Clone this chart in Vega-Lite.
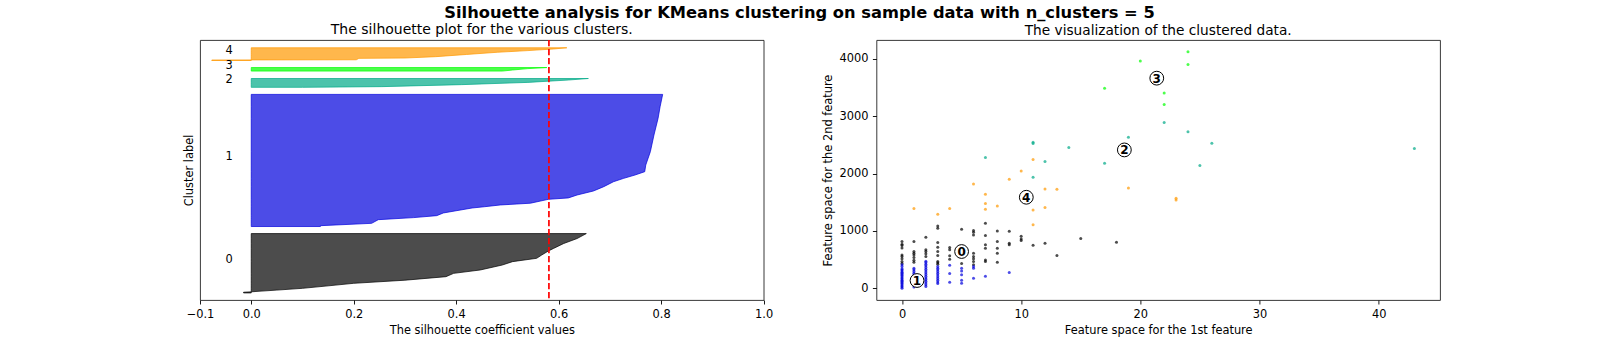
{
  "$schema": "https://vega.github.io/schema/vega-lite/v6.json",
  "autosize": {"type": "none"},
  "padding": {"left": 200, "top": 40, "right": 1400, "bottom": 297},
  "background": "white",
  "bounds": "flush",
  "spacing": 112.4,
  "title": {"text": "Silhouette analysis for KMeans clustering on sample data with n_clusters = 5", "fontSize": 16.3, "fontWeight": "bold", "font": "DejaVu Sans", "color": "#000", "anchor": "middle", "dx": -12, "offset": -12, "baseline": "alphabetic"},
  "config": {
    "font": "DejaVu Sans",
    "view": {"stroke": "#222", "strokeWidth": 0.9},
    "axis": {"grid": false, "domain": false, "tickColor": "#000", "tickSize": 4, "tickWidth": 0.9, "labelFontSize": 11.4, "labelColor": "#000", "labelFont": "DejaVu Sans", "titleFont": "DejaVu Sans", "titleFontSize": 11.4, "titleFontWeight": "normal", "titleColor": "#000", "labelPadding": 4.5, "titlePadding": 5, "labelFlush": false, "labelOverlap": false},
    "title": {"fontSize": 13.7, "fontWeight": "normal", "color": "#000", "font": "DejaVu Sans"}
  },
  "datasets": {
    "sil": [
      {"c":"0","pos":10,"val":-0.015},{"c":"0","pos":11,"val":-0.015},{"c":"0","pos":11.6,"val":0.0},{"c":"0","pos":14,"val":0.05},{"c":"0","pos":16.5,"val":0.10},{"c":"0","pos":20,"val":0.15},{"c":"0","pos":23.6,"val":0.20},{"c":"0","pos":28,"val":0.30},{"c":"0","pos":33,"val":0.38},{"c":"0","pos":37.7,"val":0.395},{"c":"0","pos":42.5,"val":0.447},{"c":"0","pos":49.5,"val":0.49},{"c":"0","pos":54.3,"val":0.51},{"c":"0","pos":59,"val":0.557},{"c":"0","pos":63.7,"val":0.567},{"c":"0","pos":69.4,"val":0.58},{"c":"0","pos":73,"val":0.59},{"c":"0","pos":80,"val":0.61},{"c":"0","pos":87,"val":0.636},{"c":"0","pos":94,"val":0.654},
      {"c":"1","pos":104,"val":0.135},{"c":"1","pos":105.2,"val":0.135},{"c":"1","pos":108.5,"val":0.235},{"c":"1","pos":113.7,"val":0.248},{"c":"1","pos":116.6,"val":0.317},{"c":"1","pos":119.4,"val":0.362},{"c":"1","pos":123.2,"val":0.375},{"c":"1","pos":130.2,"val":0.431},{"c":"1","pos":132,"val":0.455},{"c":"1","pos":134.5,"val":0.486},{"c":"1","pos":137,"val":0.545},{"c":"1","pos":142.5,"val":0.58},{"c":"1","pos":144.5,"val":0.619},{"c":"1","pos":148.6,"val":0.636},{"c":"1","pos":154.3,"val":0.668},{"c":"1","pos":160.4,"val":0.688},{"c":"1","pos":167.4,"val":0.707},{"c":"1","pos":172.2,"val":0.727},{"c":"1","pos":176.9,"val":0.749},{"c":"1","pos":181.6,"val":0.768},{"c":"1","pos":191,"val":0.770},{"c":"1","pos":210,"val":0.779},{"c":"1","pos":233.5,"val":0.786},{"c":"1","pos":257,"val":0.794},{"c":"1","pos":273.6,"val":0.798},{"c":"1","pos":291,"val":0.803},
      {"c":"2","pos":301,"val":0.10},{"c":"2","pos":302,"val":0.255},{"c":"2","pos":304.8,"val":0.41},{"c":"2","pos":308,"val":0.54},{"c":"2","pos":311.4,"val":0.62},{"c":"2","pos":313.5,"val":0.658},
      {"c":"3","pos":324,"val":0.49},{"c":"3","pos":325.5,"val":0.51},{"c":"3","pos":327.5,"val":0.54},{"c":"3","pos":329,"val":0.577},
      {"c":"4","pos":339,"val":-0.077},{"c":"4","pos":339.7,"val":-0.077},{"c":"4","pos":340,"val":0.205},{"c":"4","pos":342,"val":0.21},{"c":"4","pos":342.5,"val":0.30},{"c":"4","pos":344.4,"val":0.36},{"c":"4","pos":347.5,"val":0.42},{"c":"4","pos":350.6,"val":0.48},{"c":"4","pos":353,"val":0.54},{"c":"4","pos":355.3,"val":0.59},{"c":"4","pos":357,"val":0.616}
    ],
    "labels": [
      {"c":"0","pos":52},{"c":"1","pos":197.5},{"c":"2","pos":307},{"c":"3","pos":326.5},{"c":"4","pos":348}
    ],
    "pts": [
      {"c":"0","x":0,"y":814},{"c":"0","x":0,"y":767},{"c":"0","x":0,"y":744},{"c":"0","x":0,"y":700},{"c":"0","x":0,"y":581},{"c":"0","x":0,"y":552},{"c":"0","x":0,"y":512},{"c":"0","x":0,"y":465},{"c":"0","x":0,"y":430},
      {"c":"0","x":1,"y":814},{"c":"0","x":1,"y":640},{"c":"0","x":1,"y":610},{"c":"0","x":1,"y":581},{"c":"0","x":1,"y":535},{"c":"0","x":1,"y":488},{"c":"0","x":1,"y":453},
      {"c":"0","x":2,"y":890},{"c":"0","x":2,"y":669},{"c":"0","x":2,"y":640},{"c":"0","x":2,"y":600},{"c":"0","x":2,"y":552},
      {"c":"0","x":3,"y":1087},{"c":"0","x":3,"y":1047},{"c":"0","x":3,"y":797},{"c":"0","x":3,"y":715},{"c":"0","x":3,"y":640},{"c":"0","x":3,"y":570},{"c":"0","x":3,"y":465},{"c":"0","x":3,"y":442},{"c":"0","x":3,"y":419},
      {"c":"0","x":4,"y":709},{"c":"0","x":4,"y":669},{"c":"0","x":4,"y":564},{"c":"0","x":4,"y":506},
      {"c":"0","x":5,"y":1029},{"c":"0","x":5,"y":700},{"c":"0","x":5,"y":560},{"c":"0","x":5,"y":430},
      {"c":"0","x":6,"y":1006},{"c":"0","x":6,"y":977},{"c":"0","x":6,"y":930},{"c":"0","x":6,"y":610},{"c":"0","x":6,"y":552},{"c":"0","x":6,"y":512},{"c":"0","x":6,"y":465},{"c":"0","x":6,"y":407},
      {"c":"0","x":7,"y":1134},{"c":"0","x":7,"y":919},{"c":"0","x":7,"y":756},{"c":"0","x":7,"y":698},{"c":"0","x":7,"y":494},{"c":"0","x":7,"y":465},
      {"c":"0","x":8,"y":1000},{"c":"0","x":8,"y":814},{"c":"0","x":8,"y":698},{"c":"0","x":8,"y":610},{"c":"0","x":8,"y":453},
      {"c":"0","x":9,"y":994},{"c":"0","x":9,"y":785},{"c":"0","x":9,"y":756},
      {"c":"0","x":10,"y":907},{"c":"0","x":10,"y":860},{"c":"0","x":10,"y":831},
      {"c":"0","x":11,"y":750},{"c":"0","x":12,"y":785},{"c":"0","x":13,"y":570},{"c":"0","x":15,"y":866},{"c":"0","x":18,"y":802},
      {"c":"1","x":0,"y":0},{"c":"1","x":0,"y":20},{"c":"1","x":0,"y":40},{"c":"1","x":0,"y":60},{"c":"1","x":0,"y":80},{"c":"1","x":0,"y":100},{"c":"1","x":0,"y":120},{"c":"1","x":0,"y":140},{"c":"1","x":0,"y":160},{"c":"1","x":0,"y":180},{"c":"1","x":0,"y":200},{"c":"1","x":0,"y":220},{"c":"1","x":0,"y":240},{"c":"1","x":0,"y":260},{"c":"1","x":0,"y":280},{"c":"1","x":0,"y":300},{"c":"1","x":0,"y":320},{"c":"1","x":0,"y":340},{"c":"1","x":0,"y":380},{"c":"1","x":0,"y":410},
      {"c":"1","x":1,"y":20},{"c":"1","x":1,"y":50},{"c":"1","x":1,"y":80},{"c":"1","x":1,"y":110},{"c":"1","x":1,"y":140},{"c":"1","x":1,"y":170},{"c":"1","x":1,"y":200},{"c":"1","x":1,"y":230},{"c":"1","x":1,"y":260},{"c":"1","x":1,"y":290},{"c":"1","x":1,"y":320},{"c":"1","x":1,"y":350},
      {"c":"1","x":2,"y":30},{"c":"1","x":2,"y":60},{"c":"1","x":2,"y":90},{"c":"1","x":2,"y":120},{"c":"1","x":2,"y":150},{"c":"1","x":2,"y":180},{"c":"1","x":2,"y":210},{"c":"1","x":2,"y":240},{"c":"1","x":2,"y":270},{"c":"1","x":2,"y":300},{"c":"1","x":2,"y":330},{"c":"1","x":2,"y":360},{"c":"1","x":2,"y":390},{"c":"1","x":2,"y":420},{"c":"1","x":2,"y":450},{"c":"1","x":2,"y":470},
      {"c":"1","x":3,"y":80},{"c":"1","x":3,"y":110},{"c":"1","x":3,"y":140},{"c":"1","x":3,"y":170},{"c":"1","x":3,"y":200},{"c":"1","x":3,"y":230},{"c":"1","x":3,"y":260},{"c":"1","x":3,"y":290},{"c":"1","x":3,"y":320},{"c":"1","x":3,"y":350},{"c":"1","x":3,"y":380},
      {"c":"1","x":4,"y":105},{"c":"1","x":4,"y":256},{"c":"1","x":4,"y":400},
      {"c":"1","x":5,"y":87},{"c":"1","x":5,"y":140},{"c":"1","x":5,"y":233},{"c":"1","x":5,"y":300},{"c":"1","x":5,"y":349},
      {"c":"1","x":6,"y":174},{"c":"1","x":6,"y":349},{"c":"1","x":6,"y":380},
      {"c":"1","x":7,"y":209},{"c":"1","x":9,"y":273},
      {"c":"2","x":7,"y":2279},{"c":"2","x":11,"y":2547},{"c":"2","x":11,"y":2523},{"c":"2","x":11,"y":1936},{"c":"2","x":12,"y":2209},{"c":"2","x":14,"y":2453},{"c":"2","x":17,"y":2180},{"c":"2","x":19,"y":2634},{"c":"2","x":22,"y":2890},{"c":"2","x":24,"y":2728},{"c":"2","x":26,"y":2530},{"c":"2","x":25,"y":2140},{"c":"2","x":43,"y":2437},
      {"c":"3","x":20,"y":3965},{"c":"3","x":17,"y":3488},{"c":"3","x":24,"y":4124},{"c":"3","x":24,"y":3903},{"c":"3","x":22,"y":3408},{"c":"3","x":22,"y":3204},
      {"c":"4","x":1,"y":1390},{"c":"4","x":3,"y":1290},{"c":"4","x":4,"y":1390},{"c":"4","x":6,"y":1820},{"c":"4","x":7,"y":1640},{"c":"4","x":7,"y":1477},{"c":"4","x":7,"y":1378},{"c":"4","x":8,"y":1436},{"c":"4","x":9,"y":1900},{"c":"4","x":10,"y":2047},{"c":"4","x":11,"y":2244},{"c":"4","x":11,"y":1366},{"c":"4","x":11,"y":1105},{"c":"4","x":12,"y":1733},{"c":"4","x":12,"y":1407},{"c":"4","x":13,"y":1727},{"c":"4","x":19,"y":1750},{"c":"4","x":23,"y":1540},{"c":"4","x":23,"y":1570}
    ],
    "centers": [
      {"c":"0","x":5.0,"y":640},{"c":"1","x":1.26,"y":134},{"c":"2","x":18.66,"y":2413},{"c":"3","x":21.38,"y":3665},{"c":"4","x":10.43,"y":1587}
    ]
  },
  "hconcat": [
    {
      "width": 563.6,
      "height": 260,
      "title": {"text": "The silhouette plot for the various clusters.", "anchor": "middle", "offset": -9, "baseline": "alphabetic", "fontSize": 14}, 
      "layer": [
        {
          "data": {"name": "sil"},
          "mark": {"type": "area", "orient": "horizontal", "fillOpacity": 0.7, "strokeOpacity": 0.7, "strokeWidth": 1},
          "encoding": {
            "y": {"field": "pos", "type": "quantitative", "scale": {"domain": [0, 368], "nice": false, "zero": false}, "axis": {"title": "Cluster label", "ticks": false, "labels": false, "titlePadding": 6}},
            "x": {"field": "val", "type": "quantitative", "stack": null, "scale": {"domain": [-0.1, 1.0], "nice": false, "zero": false}, "axis": {"title": "The silhouette coefficient values", "values": [-0.1, 0, 0.2, 0.4, 0.6, 0.8, 1.0], "labelExpr": "datum.value < 0 ? '\u2212' + format(-datum.value, '.1f') : format(datum.value, '.1f')"}},
            "x2": {"datum": 0},
            "fill": {"field": "c", "type": "nominal", "scale": {"domain": ["0","1","2","3","4"], "range": ["#000000","#0000dd","#00aa88","#00ff00","#ff9900"]}, "legend": null},
            "stroke": {"field": "c", "type": "nominal", "scale": {"domain": ["0","1","2","3","4"], "range": ["#000000","#0000dd","#00aa88","#00ff00","#ff9900"]}, "legend": null}
          }
        },
        {
          "data": {"values": [{"m": 0.581}]},
          "mark": {"type": "rule", "color": "#ff0000", "strokeWidth": 1.7, "strokeDash": [6.3, 2.7]},
          "encoding": {"x": {"field": "m", "type": "quantitative"}}
        },
        {
          "data": {"name": "labels"},
          "mark": {"type": "text", "align": "left", "baseline": "alphabetic", "fontSize": 11.4, "color": "#000"},
          "encoding": {
            "x": {"datum": -0.05},
            "y": {"field": "pos", "type": "quantitative"},
            "text": {"field": "c"}
          }
        }
      ]
    },
    {
      "width": 563.6,
      "height": 260,
      "title": {"text": "The visualization of the clustered data.", "anchor": "middle", "offset": -9, "baseline": "alphabetic"},
      "layer": [
        {
          "data": {"name": "pts"},
          "mark": {"type": "circle", "size": 9, "opacity": 0.7},
          "encoding": {
            "x": {"field": "x", "type": "quantitative", "scale": {"domain": [-2.15, 45.15], "nice": false, "zero": false}, "axis": {"title": "Feature space for the 1st feature", "values": [0, 10, 20, 30, 40]}},
            "y": {"field": "y", "type": "quantitative", "scale": {"domain": [-206, 4331], "nice": false, "zero": false}, "axis": {"title": "Feature space for the 2nd feature", "values": [0, 1000, 2000, 3000, 4000], "format": "d", "titlePadding": 5}},
            "color": {"field": "c", "type": "nominal", "scale": {"domain": ["0","1","2","3","4"], "range": ["#000000","#0000dd","#00aa88","#00ff00","#ff9900"]}, "legend": null}
          }
        },
        {
          "data": {"name": "centers"},
          "mark": {"type": "point", "shape": "circle", "filled": true, "fill": "#ffffff", "stroke": "#000000", "strokeWidth": 1, "size": 190, "opacity": 1},
          "encoding": {
            "x": {"field": "x", "type": "quantitative"},
            "y": {"field": "y", "type": "quantitative"}
          }
        },
        {
          "data": {"name": "centers"},
          "mark": {"type": "text", "align": "center", "baseline": "middle", "fontSize": 12, "fontWeight": "bold", "color": "#000", "dy": 0.5},
          "encoding": {
            "x": {"field": "x", "type": "quantitative"},
            "y": {"field": "y", "type": "quantitative"},
            "text": {"field": "c"}
          }
        }
      ]
    }
  ]
}
